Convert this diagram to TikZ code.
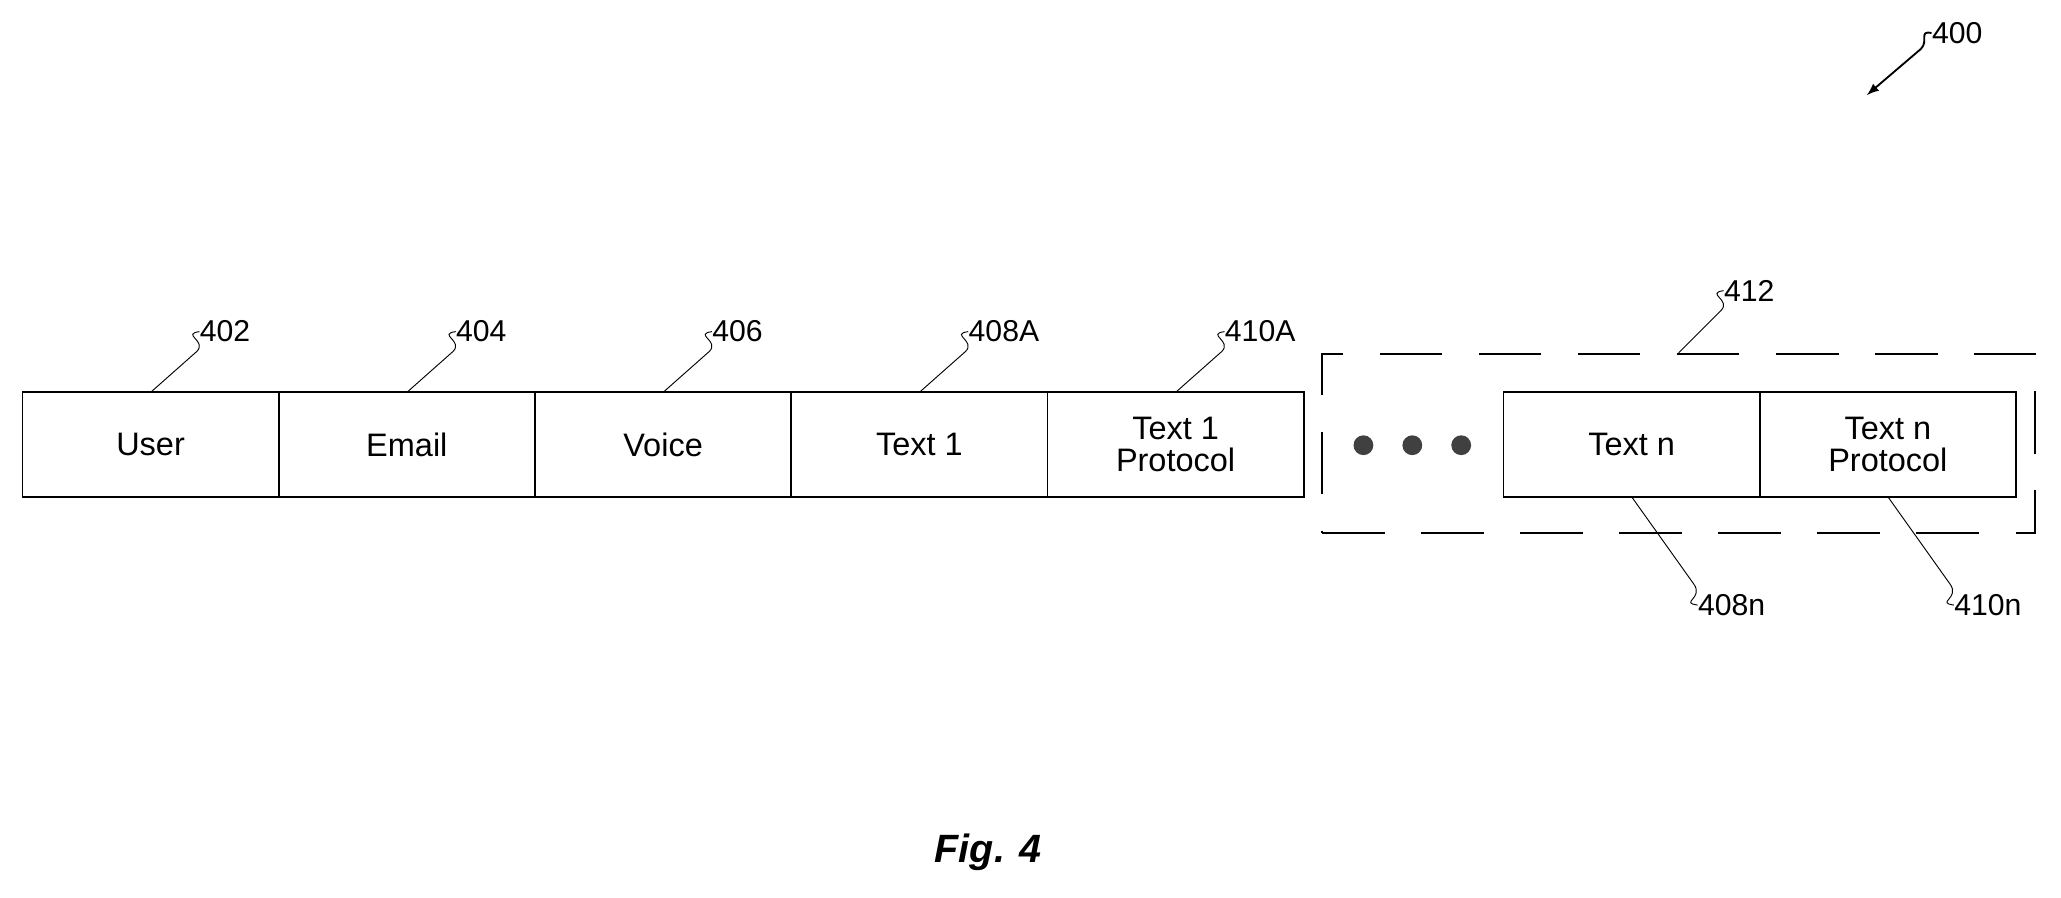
\documentclass[tikz,border=0pt]{standalone}
\usepackage{fontspec}
\setmainfont{Liberation Sans}
\usetikzlibrary{positioning}
\tikzset{
  cell/.style={draw, thick, minimum width=3.88cm, minimum height=1.58cm, inner sep=0pt, align=center, font=\fontsize{14}{16}\selectfont, outer sep=0pt},
  lbl/.style={font=\fontsize{13}{15}\selectfont, inner sep=0pt},
}
% leader with a small hook, going up or down to a label
\newcommand\leadup[3]{%
  \path (#1) ++(37,-46) node[lbl, anchor=west] (#2) {#3};
  \draw (#1) -- ++(35,-31) .. controls +(8,-8) and +(-14,2) .. (#2.west);}
\newcommand\leaddown[3]{%
  \path (#1) ++(50,82) node[lbl, anchor=west] (#2) {#3};
  \draw (#1) -- ++(47,66) .. controls +(8,11) and +(-14,-2) .. (#2.west);}
\begin{document}
\begin{tikzpicture}[x=0.02cm, y=-0.02cm]
\useasboundingbox (0,0) rectangle (1560,679);

% === RECORD ===
\node[cell, anchor=north west] (user) at (17,297) {User};
\node[cell, right=0pt of user] (email) {Email};
\node[cell, right=0pt of email] (voice) {Voice};
\node[cell, right=0pt of voice] (text1) {Text 1};
\node[cell, right=0pt of text1] (proto1) {Text 1\\[-2pt]Protocol};
\node[cell, anchor=north west] (textn) at (1138,297) {Text n};
\node[cell, right=0pt of textn] (proton) {Text n\\[-2pt]Protocol};

% repeated group
\node[draw, thick, dash pattern=on 0.95cm off 0.55cm, minimum width=10.8cm, minimum height=2.72cm, anchor=north west] (group) at (1000,267) {};
\foreach \x in {1032,1069,1106}
  \fill[black!75] (\x,337) circle (0.15cm);

% === REFERENCE LABELS ===
\leadup{user.north}{l402}{402}
\leadup{email.north}{l404}{404}
\leadup{voice.north}{l406}{406}
\leadup{text1.north}{l408a}{408A}
\leadup{proto1.north}{l410a}{410A}
\path (group.north) ++(34,-47) node[lbl, anchor=west] (l412) {412};
\draw (group.north) -- ++(32,-32) .. controls +(8,-8) and +(-14,2) .. (l412.west);
\leaddown{textn.south}{l408n}{408n}
\leaddown{proton.south}{l410n}{410n}

% figure reference
\node[lbl, anchor=west] (l400) at (1462,25) {400};
\coordinate (a400) at (1413,72);
\draw[thick, -latex] (l400.west) .. controls +(-10,-2) and +(6,-6) .. ++(-8,12) -- (a400);

\node[font=\fontsize{17}{20}\selectfont\bfseries\itshape] (fig) at (748,645) {Fig. 4};
\end{tikzpicture}
\end{document}
